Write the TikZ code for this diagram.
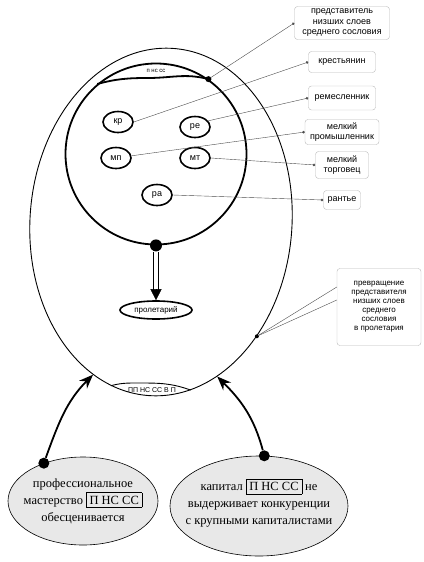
\documentclass[tikz,border=0pt]{standalone}
\usepackage{fontspec}
\setmainfont{Liberation Sans}
\newfontfamily\bookfont{Liberation Serif}
\usetikzlibrary{shapes.geometric, arrows.meta, positioning}

\begin{document}
\begin{tikzpicture}[x=1pt, y=1pt,
    stratum/.style={
        ellipse, draw, line width=1.6pt, minimum width=30pt,
        minimum height=21pt, inner sep=0pt, font=\fontsize{9}{10}\selectfont
    },
    tag/.style={
        rectangle, draw=gray!55, rounded corners=3pt, align=center,
        inner sep=2pt, font=\fontsize{9}{10.5}\selectfont
    },
    cause/.style={
        ellipse, draw, fill=gray!18, line width=0.6pt, inner sep=0pt
    },
    causetext/.style={
        align=center, inner sep=0pt, font=\bookfont\fontsize{12.5}{17}\selectfont
    },
    blob/.style={circle, fill, inner sep=0pt, minimum size=#1},
    lead/.style={gray!60!black, line width=0.4pt},
    leaddot/.style={lead, -{Circle[length=2.6pt]}},
    rail/.style={line width=0.8pt},
    push/.style={line width=1.8pt, -{Stealth[length=14pt, width=11pt]}}
]
\useasboundingbox (0,0) rectangle (423,-562);

% outer egg and inner circle
\node[ellipse, draw, line width=0.9pt, minimum width=262pt,
      minimum height=348pt, rotate=-4] (outer) at (161,-222) {};
\node[circle, draw, line width=1.8pt, minimum size=181pt] (inner) at (156,-154) {};

% top lens
\draw[line width=1.8pt] (inner.130) to[out=15,in=180] (148,-78)
    to[out=0,in=165] (inner.55);
\node[font=\fontsize{6}{6}\selectfont] (pnss) at (156,-71) {п нс сс};
\node[blob=6pt] (wavedot) at (inner.55) {};

% groups
\node[stratum] (kr) at (118,-122) {кр};
\node[stratum] (re) at (195,-127) {ре};
\node[stratum] (mp) at (116,-158) {мп};
\node[stratum] (mt) at (195,-158) {мт};
\node[stratum] (ra) at (157,-195) {ра};

% labels on the right
\node[tag, minimum width=95pt, minimum height=33pt] (b1) at (342,-23)
    {представитель\\низших слоев\\среднего сословия};
\node[tag, minimum width=67pt, minimum height=21pt] (b2) at (342,-62) {крестьянин};
\node[tag, minimum width=67pt, minimum height=24pt] (b3) at (342,-98) {ремесленник};
\node[tag, minimum width=74pt, minimum height=25pt] (b4) at (342,-132)
    {мелкий\\промышленник};
\node[tag, minimum width=53pt, minimum height=27pt] (b5) at (342,-165)
    {мелкий\\торговец};
\node[tag, minimum width=37pt, minimum height=19pt] (b6) at (342,-200) {рантье};

\draw[leaddot] (wavedot) -- (b1.west);
\draw[leaddot] (kr.east) -- (b2.west);
\draw[leaddot] (re.25) -- (b3.west);
\draw[leaddot] (mp.8) -- (b4.west);
\draw[leaddot] (mt.east) -- (b5.west);
\draw[leaddot] (ra.east) -- (b6.west);

% callout
\node[tag, font=\fontsize{8}{9}\selectfont, minimum width=84pt,
      minimum height=77pt] (turn) at (379,-307)
    {превращение\\представителя\\низших слоев\\среднего\\сословия\\в пролетария};
\node[blob=4pt] (turndot) at (outer.-46) {};
\draw[white, line width=1.2pt] ([yshift=19pt]turn.west) -- ([yshift=8pt]turn.west);
\draw[lead] (turndot) -- ([yshift=20pt]turn.west);
\draw[lead] (turndot) -- ([yshift=7pt]turn.west);

% proletarian
\node[ellipse, draw, line width=1.6pt, minimum width=72pt, minimum height=18pt,
      inner sep=0pt, font=\fontsize{8}{9}\selectfont] (prol) at (156,-310) {пролетарий};
\node[blob=12pt] (falldot) at (inner.-90) {};
\draw[rail] ([xshift=-2.2pt]falldot.south) -- ([xshift=-2.2pt,yshift=10pt]prol.north);
\draw[rail] ([xshift=2.2pt]falldot.south) -- ([xshift=2.2pt,yshift=10pt]prol.north);
\draw[-{Triangle[length=11pt, width=11pt]}, shorten <=38pt] (falldot) -- (prol);

% bottom lens
\draw[line width=0.9pt] (outer.-103) to[out=15,in=180] (140,-383)
    to[out=0,in=160] (outer.-76);
\node[font=\fontsize{7}{7}\selectfont] (ppnss) at (152,-390) {ПП НС СС В П};

% causes
\node[cause, minimum width=150pt, minimum height=88pt] (skill) at (83,-501) {};
\node[causetext] (skilltext) at (skill.center)
    {профессиональное\\мастерство \fbox{П НС СС}\\обесценивается};
\node[cause, minimum width=178pt, minimum height=100pt] (capital) at (259,-506) {};
\node[causetext] (capitaltext) at ([yshift=3pt]capital.center)
    {капитал \fbox{П НС СС} не\\выдерживает конкуренции\\с крупными капиталистами};
\node[blob=11pt] (skilldot) at (skill.136) {};
\node[blob=11pt] (capdot) at (capital.84) {};

\draw[push] (skilldot) to[out=70,in=-135] (outer.-110);
\draw[push] (capdot) to[out=105,in=-45] (outer.-66);

\end{tikzpicture}
\end{document}
